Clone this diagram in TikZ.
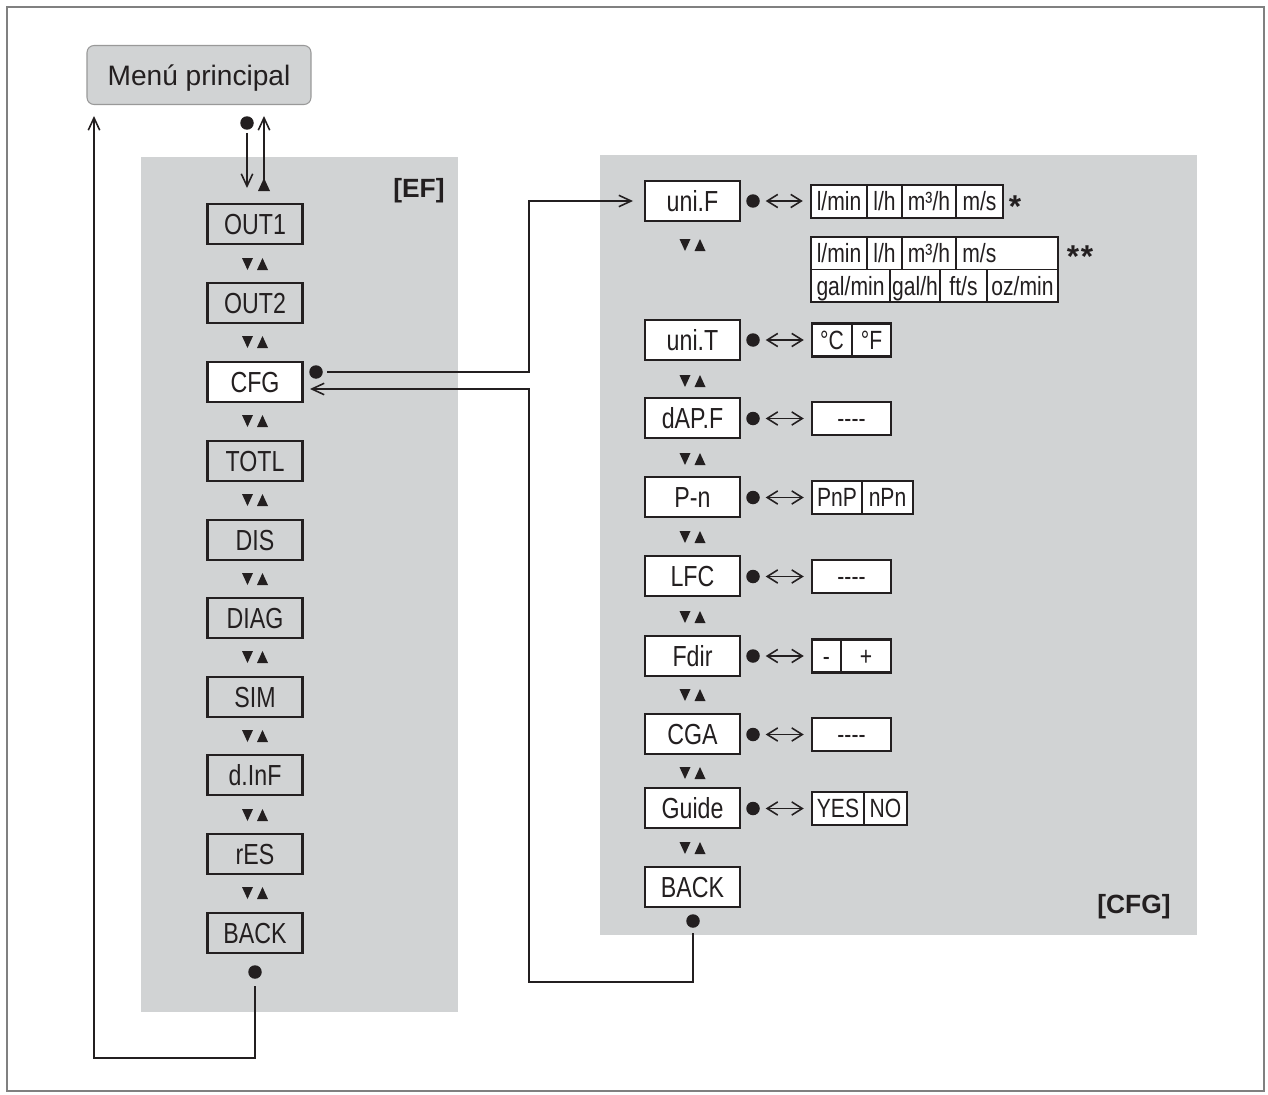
\documentclass[tikz,border=0pt]{standalone}
\usepackage{fontspec}
\setmainfont{Liberation Sans}
\newfontfamily\narrowf{Liberation Sans}[FakeStretch=0.8]
\usetikzlibrary{arrows.meta}
\definecolor{panel}{RGB}{209,211,212}
\definecolor{ink}{RGB}{35,31,32}
\newcommand\updn[2]{%
  \fill[ink] (#1-13,#2-6) -- (#1-2,#2-6) -- (#1-7.5,#2+6) -- cycle;
  \fill[ink] (#1+2,#2+6) -- (#1+13,#2+6) -- (#1+7.5,#2-6) -- cycle;}
\begin{document}
\begin{tikzpicture}[x=0.02cm,y=-0.02cm,
  lab/.style={draw=ink, line width=1.5pt, minimum width=1.9cm, minimum height=0.8cm, inner sep=0pt,
    font=\narrowf\fontsize{16.5}{18}\selectfont, text height=11.8pt, text depth=0pt, text=ink},
  glab/.style={lab, fill=panel},
  wlab/.style={lab, fill=white},
  optbox/.style={draw=ink, line width=1.4pt, fill=white, inner sep=0pt, minimum height=0.66cm},
  opt/.style={inner sep=0pt, font=\narrowf\fontsize{15}{17}\selectfont, text height=10.7pt, text depth=0pt, text=ink},
  dot/.style={circle, fill=ink, inner sep=0pt, minimum size=0.27cm},
  conn/.style={draw=ink, line width=0.9pt},
  tip/.style={-{Straight Barb[length=7pt,width=6.5pt]}},
  dbl/.style={{Straight Barb[length=6pt,width=7.5pt]}-{Straight Barb[length=6pt,width=7.5pt]}},
  div/.style={draw=ink, line width=0.6pt},
  tag/.style={font=\bfseries\fontsize{15}{17}\selectfont, anchor=base, inner sep=0pt, text=ink},
  star/.style={font=\bfseries\fontsize{18}{20}\selectfont, anchor=base, inner sep=0pt, text=ink},
]
\useasboundingbox (0,0) rectangle (1268,1095);
\fill[white] (0,0) rectangle (1268,1095);
\draw[black!50, line width=1.1pt] (7,7) rectangle (1264,1091);

% panels
\fill[panel] (141,157) rectangle (458,1012);
\fill[panel] (600,155) rectangle (1197,935);

% main menu
\node[draw=black!40, line width=0.6pt, fill=panel, rounded corners=4pt, minimum width=4.48cm,
  minimum height=1.18cm, font=\fontsize{16}{18}\selectfont, text height=11.5pt, text depth=0pt,
  text=ink] (menu) at (199,75) {Menú principal};

% [EF] column
\node[glab] (out1) at (255,224) {OUT1};
\node[glab] (out2) at (255,303) {OUT2};
\node[wlab] (cfg)  at (255,382) {CFG};
\node[glab] (totl) at (255,461) {TOTL};
\node[glab] (dis)  at (255,540) {DIS};
\node[glab] (diag) at (255,618) {DIAG};
\node[glab] (sim)  at (255,697) {SIM};
\node[glab] (dinf) at (255,775) {d.InF};
\node[glab] (res)  at (255,854) {rES};
\node[glab] (back1) at (255,933) {BACK};
\foreach \y in {264,342,421,500,579,657,736,815,893} {\updn{255}{\y}}
\node[tag] (tef) at (419,197) {[EF]};

% [CFG] column
\node[wlab] (unif) at (692.5,201) {uni.F};
\node[wlab] (unit) at (692.5,340) {uni.T};
\node[wlab] (dapf) at (692.5,418) {dAP.F};
\node[wlab] (pn)   at (692.5,497) {P-n};
\node[wlab] (lfc)  at (692.5,576) {LFC};
\node[wlab] (fdir) at (692.5,656) {Fdir};
\node[wlab] (cga)  at (692.5,734) {CGA};
\node[wlab] (guide) at (692.5,808) {Guide};
\node[wlab] (back2) at (692.5,887) {BACK};
\foreach \y in {245,381,459,537,617,695,773,848} {\updn{692.5}{\y}}
\node[tag] (tcfg) at (1134,913) {[CFG]};

% option boxes
\node[optbox, minimum width=3.84cm] (o-unif) at (907,201.5) {};
\foreach \x in {867,902,956} {\draw[div] (\x,185) -- (\x,218);}
\node[opt] at (839,201.5) {l/min};
\node[opt] at (884.5,201.5) {l/h};
\node[opt] at (929,201.5) {m³/h};
\node[opt] at (979.5,201.5) {m/s};
\node[star] (star1) at (1015,217) {*};

\node[optbox, minimum width=4.94cm, minimum height=1.3cm] (o-unif2) at (934.5,269.5) {};
\draw[div] (811,269.5) -- (1058,269.5);
\foreach \x in {867,902,956} {\draw[div] (\x,237) -- (\x,269.5);}
\foreach \x in {890,940,987} {\draw[div] (\x,269.5) -- (\x,302);}
\node[opt] at (839,253.5) {l/min};
\node[opt] at (884.5,253.5) {l/h};
\node[opt] at (929,253.5) {m³/h};
\node[opt, anchor=west] at (962,253.5) {m/s};
\node[opt] at (850.5,286) {gal/min};
\node[opt] at (915,286) {gal/h};
\node[opt] at (963.5,286) {ft/s};
\node[opt] at (1022.5,286) {oz/min};
\node[star] (star2) at (1080,267) {*\kern1pt*};

\node[optbox, minimum width=1.58cm] (o-unit) at (851.5,340) {};
\draw[div] (852,323.5) -- (852,356.5);
\node[opt] at (832,340) {°C};
\node[opt] at (871.5,340) {°F};

\node[optbox, minimum width=1.58cm] (o-dapf) at (851.5,418.5) {};
\node[opt] at (851.5,418.5) {----};

\node[optbox, minimum width=2.02cm] (o-pn) at (862.5,497.5) {};
\draw[div] (862,481) -- (862,514);
\node[opt] at (837,497.5) {PnP};
\node[opt] at (887.5,497.5) {nPn};

\node[optbox, minimum width=1.58cm] (o-lfc) at (851.5,576.5) {};
\node[opt] at (851.5,576.5) {----};

\node[optbox, minimum width=1.58cm] (o-fdir) at (851.5,656) {};
\draw[div] (841,639.5) -- (841,672.5);
\node[opt] at (826.5,656) {-};
\node[opt] at (866,656) {+};

\node[optbox, minimum width=1.58cm] (o-cga) at (851.5,734.5) {};
\node[opt] at (851.5,734.5) {----};

\node[optbox, minimum width=1.9cm] (o-guide) at (859.5,808.5) {};
\draw[div] (864,792) -- (864,825);
\node[opt] at (838,808.5) {YES};
\node[opt] at (885.5,808.5) {NO};

% dots and double arrows
\foreach \n/\y in {unif/201,unit/340,dapf/418.5,pn/497.5,lfc/576.5,fdir/656,cga/734.5,guide/808.5} {
  \node[dot] (d-\n) at (753,\y) {};
  \draw[conn,dbl,shorten <=3.2pt,shorten >=4pt] (d-\n) -- (o-\n.west |- d-\n);
}

% top connections with main menu
\node[dot] (dtop) at (247,123) {};
\coordinate (efin) at (247,188);
\draw[conn,tip] (dtop) ++(0,10) -- (efin);
\fill[ink] (258,191) -- (270,191) -- (264,178) -- cycle;
\coordinate (menuin) at (264,116);
\draw[conn,tip] (264,182) -- (menuin);

% BACK of [EF] to main menu
\node[dot] (dback1) at (255,972) {};
\coordinate (c1) at (94,1058);
\coordinate (menuin2) at (94,116);
\draw[conn,tip] (dback1) ++(0,14) -- (255,1058) -- (c1) -- (menuin2);

% CFG to [CFG]
\node[dot] (dcfg) at (316,372) {};
\coordinate (c2) at (529,372);
\coordinate (unifin) at (633,201);
\draw[conn,tip] (dcfg) ++(11,0) -- (c2) |- (unifin);

% BACK of [CFG] to CFG
\node[dot] (dback2) at (693,921) {};
\coordinate (c3) at (529,982);
\coordinate (cfgin) at (310,389);
\draw[conn,tip] (dback2) ++(0,12) -- (693,982) -- (c3) |- (cfgin);
\end{tikzpicture}
\end{document}
